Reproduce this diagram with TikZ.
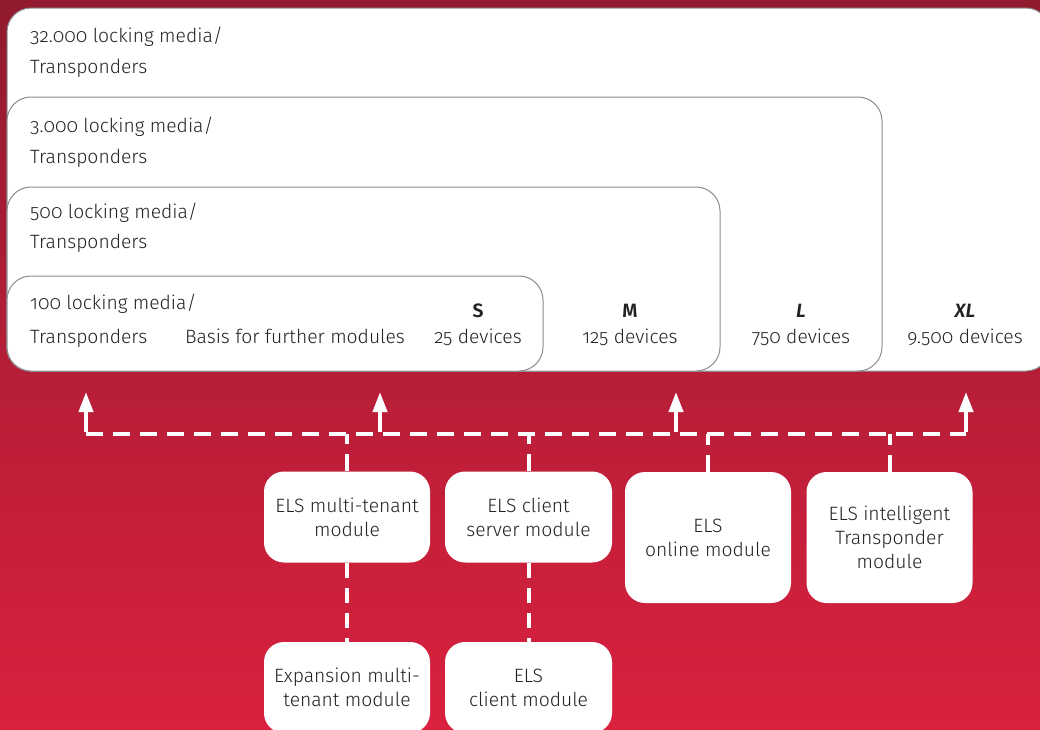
\documentclass[tikz,border=0pt]{standalone}
\usepackage{fontspec}
\setmainfont{Fira Sans Light}[Numbers=OldStyle, BoldFont={Fira Sans SemiBold}, BoldItalicFont={Fira Sans SemiBold Italic}]
\usetikzlibrary{arrows.meta}
\definecolor{bgtop}{HTML}{911A2F}
\definecolor{bgbot}{HTML}{DA213F}
\definecolor{txt}{HTML}{222222}
\definecolor{edge}{HTML}{8C8C8C}
\tikzset{
 tier/.style={draw=edge, line width=1pt, fill=white, rounded corners=24pt},
 lbl/.style={anchor=base west, inner sep=0pt, text=txt, font=\fontsize{19.3}{22}\selectfont},
 sz/.style={anchor=base, inner sep=0pt, text=txt, font=\fontsize{19.3}{22}\selectfont},
 mod/.style={fill=white, rounded corners=20pt, text=txt, align=center, font=\fontsize{19.3}{24}\selectfont, minimum width=166pt, minimum height=91pt, inner sep=0pt},
 link/.style={white, line width=4pt, dash pattern=on 17pt off 10pt},
 arr/.style={white, line width=4pt, -{Triangle[width=14pt,length=20pt]}},
}
\begin{document}
\begin{tikzpicture}[x=1pt,y=-1pt]
\useasboundingbox (0,0) rectangle (1040,729);
\clip (0,0) rectangle (1040,729);
\shade[top color=bgtop,bottom color=bgbot] (0,0) rectangle (1040,729);
% tiers
\draw[tier] (7,8) rectangle (1050,371);
\draw[tier] (7,97) rectangle (882,371);
\draw[tier] (7,187) rectangle (720,371);
\draw[tier] (7,276) rectangle (543,371);
% tier labels
\node[lbl] (xla) at (30,42) {32.000 locking media/};
\node[lbl] (xlb) at (30,73) {Transponders};
\node[lbl] (la) at (30,132) {3.000 locking media/};
\node[lbl] (lb) at (30,163) {Transponders};
\node[lbl] (ma) at (30,218) {500 locking media/};
\node[lbl] (mb) at (30,248) {Transponders};
\node[lbl] (sa) at (30,309) {100 locking media/};
\node[lbl] (sb) at (30,343) {Transponders};
\node[sz] (basis) at (295,343) {Basis for further modules};
\node[sz] (sh) at (478,317) {\textbf{S}};
\node[sz] (sd) at (478,343) {25 devices};
\node[sz] (mh) at (630,317) {\textbf{M}};
\node[sz] (md) at (630,343) {125 devices};
\node[sz] (lh) at (801,317) {\textbf{\textit{L}}};
\node[sz] (ld) at (801,343) {750 devices};
\node[sz] (xh) at (965,317) {\textbf{\textit{XL}}};
\node[sz] (xd) at (965,343) {9.500 devices};
% modules
\node[mod] (mt) at (347,517) {ELS multi-tenant\\module};
\node[mod, minimum width=167pt] (cs) at (528.5,517) {ELS client\\server module};
\node[mod, minimum height=131pt] (on) at (708,537.5) {ELS\\online module};
\node[mod, minimum height=131pt] (it) at (889.5,537.5) {ELS intelligent\\Transponder\\module};
\node[mod] (ex) at (347,687.5) {Expansion multi-\\tenant module};
\node[mod, minimum width=167pt] (cl) at (528.5,687.5) {ELS\\client module};
% bus
\coordinate (b1) at (86,434);
\coordinate (b2) at (380,434);
\coordinate (b3) at (676,434);
\coordinate (b4) at (966,434);
\coordinate (t1) at (86,392);
\coordinate (t2) at (380,392);
\coordinate (t3) at (676,392);
\coordinate (t4) at (966,392);
\draw[link] (b1) -- (b4);
\draw[link] (mt.north) -- (mt.north |- b1);
\draw[link] (cs.north) -- (cs.north |- b1);
\draw[link] (on.north) -- (on.north |- b1);
\draw[link] (it.north) -- (it.north |- b1);
\draw[link, dash pattern=on 15pt off 10pt] (mt.south) -- (ex.north);
\draw[link, dash pattern=on 15pt off 10pt] (cs.south) -- (cl.north);
\draw[arr] ([yshift=2pt]b1) -- (t1);
\draw[arr] ([yshift=2pt]b2) -- (t2);
\draw[arr] ([yshift=2pt]b3) -- (t3);
\draw[arr] ([yshift=2pt]b4) -- (t4);
\end{tikzpicture}
\end{document}
